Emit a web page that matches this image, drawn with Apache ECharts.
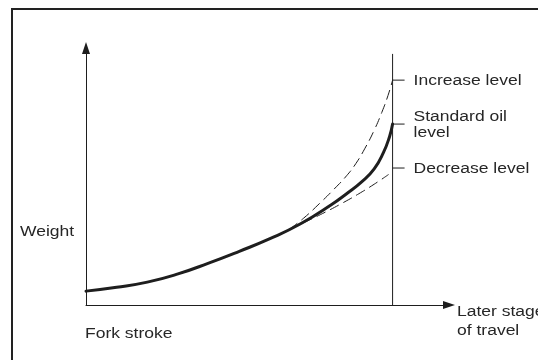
<!DOCTYPE html>
<html>
<head>
<meta charset="utf-8">
<script src="https://cdn.jsdelivr.net/npm/echarts@6/dist/echarts.min.js"></script>
<style>
  html, body { margin: 0; padding: 0; background: #fff; }
  #chart { width: 538px; height: 360px; }
</style>
</head>
<body>
<div id="chart"></div>
<script>
// Fork stroke (0 = start of travel, 100 = end of travel) against weight, arbitrary units
const strokeStandard = [0, 10, 20, 30, 40, 50, 60, 70, 80, 85, 90, 94, 97, 99, 100];
const weightStandard = [5.4, 6.9, 8.9, 12.1, 16.3, 20.9, 25.8, 31.6, 39.0, 43.3, 48.0, 53.0, 59.3, 65.5, 70.4];

const strokeIncrease = [66.5, 71, 76, 81, 85, 88, 91, 94, 96.5, 98.5, 100];
const weightIncrease = [29.6, 33.8, 39.3, 45.2, 50.3, 55.0, 61.0, 68.0, 75.0, 81.5, 87.5];

const strokeDecrease = [66.5, 72, 78, 84, 89, 94, 98.6];
const weightDecrease = [29.6, 32.6, 36.1, 39.9, 43.3, 47.0, 50.7];

// Oil level marks on the end-of-travel line
const levelNames = ['Increase level', 'Standard oil\nlevel', 'Decrease level'];
const levelWeights = [87.5, 70.4, 53.3];

const endStroke = 100;
const endLineTop = 97.7;

const INK = '#1e1e1e';
const FONT = '"Liberation Sans", Arial, Helvetica, sans-serif';
const STRETCH = 1.25;

const zip = (xs, ys) => xs.map((x, i) => [x, ys[i]]);

const chart = echarts.init(document.getElementById('chart'), null, { renderer: 'canvas' });

const hiddenAxisParts = {
  axisTick: { show: false },
  axisLabel: { show: false },
  splitLine: { show: false }
};

function textEl(text, x, y, lineHeight) {
  return {
    type: 'text',
    x: x, y: y,
    scaleX: STRETCH,
    silent: true,
    style: {
      text: text,
      fontSize: 14,
      fontFamily: FONT,
      fill: '#262626',
      align: 'left',
      verticalAlign: 'middle',
      lineHeight: lineHeight || 16
    }
  };
}

function curve(name, xs, ys, width, dashed) {
  return {
    name: name,
    type: 'line',
    data: zip(xs, ys),
    smooth: 0.5,
    symbol: 'none',
    silent: true,
    lineStyle: { color: INK, width: width, type: dashed ? [9, 6] : 'solid', cap: 'round', join: 'round' }
  };
}

chart.setOption({
  animation: false,
  backgroundColor: '#ffffff',
  grid: { left: 86, right: 89, top: 48, bottom: 55, containLabel: false },
  xAxis: Object.assign({
    type: 'value', min: 0, max: 118.4,
    axisLine: {
      show: true, onZero: false,
      symbol: ['none', 'triangle'], symbolSize: [8, 12],
      lineStyle: { color: INK, width: 1 }
    }
  }, hiddenAxisParts),
  yAxis: Object.assign({
    type: 'value', min: 0, max: 100,
    axisLine: {
      show: true, onZero: false,
      symbol: ['none', 'triangle'], symbolSize: [8, 12],
      lineStyle: { color: INK, width: 1 }
    }
  }, hiddenAxisParts),
  graphic: [
    {
      type: 'rect', silent: true, z: 100,
      shape: { x: 12, y: 9, width: 700, height: 500 },
      style: { fill: 'none', stroke: '#222', lineWidth: 2 }
    },
    textEl('Weight', 20, 232),
    textEl('Fork stroke', 85, 334),
    textEl('Later stage\nof travel', 457, 322, 19)
  ],
  series: [
    {
      name: 'End of travel',
      type: 'line',
      data: [[endStroke, 0], [endStroke, endLineTop]],
      symbol: 'none',
      lineStyle: { color: INK, width: 1 },
      silent: true
    },
    curve('Increase level', strokeIncrease, weightIncrease, 1, true),
    curve('Decrease level', strokeDecrease, weightDecrease, 1, true),
    curve('Standard oil level', strokeStandard, weightStandard, 3, false),
    {
      name: 'Level marks',
      type: 'custom',
      silent: true,
      data: levelWeights.map((w, i) => [endStroke, w, i]),
      renderItem: function (params, api) {
        const p = api.coord([api.value(0), api.value(1)]);
        const label = levelNames[api.value(2)];
        return {
          type: 'group',
          children: [
            {
              type: 'line',
              shape: { x1: p[0], y1: p[1], x2: p[0] + 12, y2: p[1] },
              style: { stroke: INK, lineWidth: 1 }
            },
            textEl(label, p[0] + 21, p[1] + 1, 16)
          ]
        };
      }
    }
  ]
});
</script>
</body>
</html>
